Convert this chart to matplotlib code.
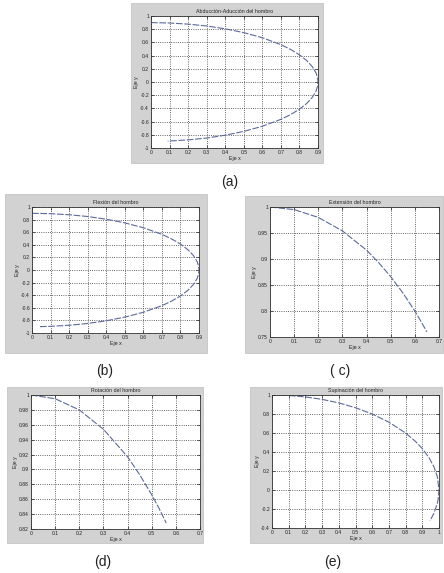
import matplotlib
matplotlib.use("Agg")
import matplotlib.pyplot as plt
from matplotlib.patches import Rectangle
from matplotlib.ticker import FuncFormatter

plt.rcParams['font.family'] = ['Liberation Sans', 'DejaVu Sans']
plt.rcParams['axes.unicode_minus'] = False

W, H = 444, 573

# ---- data ----
titles = ["Abducción-Aducción del hombro", "Flexión del hombro",
          "Extensión del hombro", "Rotación del hombro",
          "Supinación del hombro"]
panel_tags = ["(a)", "(b)", "( c)", "(d)", "(e)"]

x_a = [0.0, 0.1, 0.2, 0.3, 0.4, 0.5, 0.6, 0.7, 0.75, 0.8, 0.84, 0.87, 0.89, 0.898, 0.9,
       0.898, 0.89, 0.87, 0.84, 0.8, 0.75, 0.7, 0.6, 0.5, 0.4, 0.3, 0.2, 0.09]
y_a = [0.9, 0.894, 0.877, 0.849, 0.806, 0.748, 0.671, 0.566, 0.497, 0.412, 0.323, 0.23, 0.134, 0.06, 0.0,
       -0.06, -0.134, -0.23, -0.323, -0.412, -0.497, -0.566, -0.671, -0.748, -0.806, -0.849, -0.877, -0.895]

x_b = [0.0, 0.1, 0.2, 0.3, 0.4, 0.5, 0.6, 0.7, 0.75, 0.8, 0.84, 0.87, 0.89, 0.898, 0.9,
       0.898, 0.89, 0.87, 0.84, 0.8, 0.75, 0.7, 0.6, 0.5, 0.4, 0.3, 0.2, 0.1, 0.04]
y_b = [0.9, 0.894, 0.877, 0.849, 0.806, 0.748, 0.671, 0.566, 0.497, 0.412, 0.323, 0.23, 0.134, 0.06, 0.0,
       -0.06, -0.134, -0.23, -0.323, -0.412, -0.497, -0.566, -0.671, -0.748, -0.806, -0.849, -0.877, -0.894, -0.899]

x_c = [0.0, 0.1, 0.2, 0.3, 0.4, 0.45, 0.5, 0.55, 0.6, 0.65]
y_c = [1.0, 0.995, 0.980, 0.954, 0.917, 0.893, 0.866, 0.835, 0.800, 0.760]

x_d = [0.0, 0.1, 0.2, 0.3, 0.4, 0.45, 0.5, 0.53, 0.56]
y_d = [1.0, 0.995, 0.980, 0.954, 0.917, 0.893, 0.866, 0.848, 0.828]

x_e = [0.05, 0.1, 0.2, 0.3, 0.4, 0.5, 0.6, 0.7, 0.8, 0.86, 0.9, 0.94, 0.97, 0.99, 1.0,
       0.995, 0.99, 0.97, 0.946]
y_e = [0.999, 0.995, 0.980, 0.954, 0.917, 0.866, 0.800, 0.714, 0.600, 0.510, 0.436, 0.341, 0.243, 0.141, 0.0,
       -0.10, -0.141, -0.243, -0.325]

xlims = [(0, 0.9), (0, 0.9), (0, 0.7), (0, 0.7), (0, 1.0)]
ylims = [(-1, 1), (-1, 1), (0.75, 1.0), (0.82, 1.0), (-0.4, 1.0)]
xticks = [[i / 10 for i in range(10)], [i / 10 for i in range(10)],
          [i / 10 for i in range(8)], [i / 10 for i in range(8)],
          [i / 10 for i in range(11)]]
yticks = [[-1 + 0.2 * i for i in range(11)], [-1 + 0.2 * i for i in range(11)],
          [0.75 + 0.05 * i for i in range(6)], [0.82 + 0.02 * i for i in range(10)],
          [-0.4 + 0.2 * i for i in range(8)]]
curves = [(x_a, y_a), (x_b, y_b), (x_c, y_c), (x_d, y_d), (x_e, y_e)]

# ---- layout in pixels: axes box (left, top, right, bottom), grey frame, tag position ----
axes_px = [(151, 16, 318, 148), (32, 207, 199, 333), (270, 207, 439, 337),
           (31, 395, 200, 529), (272, 395, 439, 528)]
frame_px = [(131, 3, 323, 163), (5, 194, 207, 353), (245, 196, 443, 353),
            (7, 387, 203, 543), (250, 387, 442, 543)]
tag_px = [(230, 182), (105, 371), (340, 371), (103, 562), (333, 562)]

fig = plt.figure(figsize=(W / 100, H / 100), dpi=100)
fig.patch.set_facecolor('white')

fmt = FuncFormatter(lambda v, p: ('%.2f' % v).rstrip('0').rstrip('.') if abs(v) > 1e-9 else '0')

for i in range(5):
    fl, ft, fr, fb = frame_px[i]
    fig.patches.append(Rectangle((fl / W, 1 - fb / H), (fr - fl) / W, (fb - ft) / H,
                                 transform=fig.transFigure, facecolor='#d2d2d2',
                                 edgecolor='#bdbdbd', lw=0.5, zorder=-10))
    l, t, r, b = axes_px[i]
    ax = fig.add_axes([l / W, 1 - b / H, (r - l) / W, (b - t) / H], zorder=1)
    ax.set_facecolor('white')
    xs, ys = curves[i]
    ax.plot(xs, ys, color='#5c6a9c', lw=0.8, ls=(0, (6, 1.5)))
    ax.set_xlim(*xlims[i])
    ax.set_ylim(*ylims[i])
    ax.set_xticks(xticks[i])
    ax.set_yticks(yticks[i])
    ax.xaxis.set_major_formatter(fmt)
    ax.yaxis.set_major_formatter(fmt)
    ax.tick_params(direction='in', length=2, width=0.5, labelsize=3.6, pad=1.5,
                   top=True, right=True, colors='#222222')
    ax.grid(True, color='#333333', ls=':', lw=0.6)
    for s in ax.spines.values():
        s.set_linewidth(0.6)
        s.set_color('#333333')
    ax.set_title(titles[i], fontsize=3.8, pad=2, color='#222222')
    ax.set_xlabel("Eje x", fontsize=3.8, labelpad=1, color='#222222')
    ax.set_ylabel("Eje y", fontsize=3.8, labelpad=1, color='#222222')
    tx, ty = tag_px[i]
    fig.text(tx / W, 1 - ty / H, panel_tags[i], fontsize=10, ha='center', va='center',
             color='#222222')

fig.savefig("out.png", dpi=100, facecolor='white')
